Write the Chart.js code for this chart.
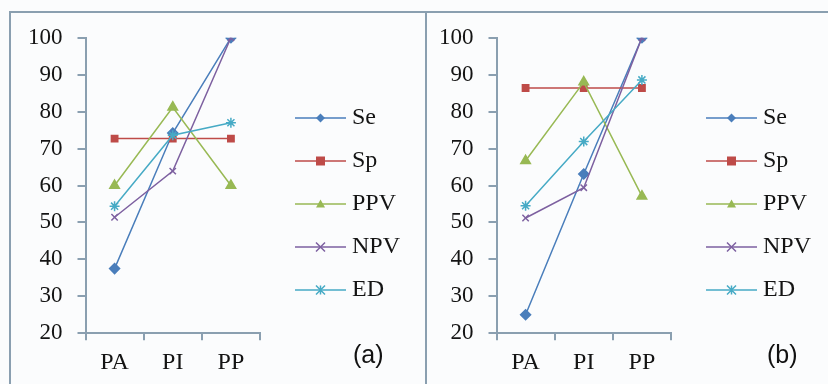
<!DOCTYPE html>
<html>
<head>
<meta charset="utf-8">
<script src="https://cdn.jsdelivr.net/npm/chart.js@4.4.0/dist/chart.umd.min.js"></script>
<style>
  html, body { margin: 0; padding: 0; width: 828px; height: 384px; overflow: hidden; background: #fbfcfd; }
  .frame { position: absolute; top: 11px; height: 380px; border-top: 2px solid #8a9fb0; }
  #frameA { left: 9px; width: 414px; border-left: 2px solid #8a9fb0; border-right: 2px solid #8a9fb0; }
  #frameB { left: 427px; width: 401px; }
  canvas { position: absolute; top: 9px; }
  #chartA { left: 11px; }
  #chartB { left: 422px; }
  .tag { position: absolute; top: 342px; font: 25px/25px "Liberation Sans", Arial, sans-serif; color: #111; }
</style>
</head>
<body>
<div class="frame" id="frameA"></div>
<div class="frame" id="frameB"></div>
<canvas id="chartA" width="414" height="376"></canvas>
<canvas id="chartB" width="414" height="376"></canvas>
<div class="tag" style="left:353px">(a)</div>
<div class="tag" style="left:767px">(b)</div>
<script>
// Categories and series names
const categories = ['PA', 'PI', 'PP'];
const seriesNames = ['Se', 'Sp', 'PPV', 'NPV', 'ED'];

// Panel (a) values
const seA = [37.5, 74.2, 100];
const spA = [72.7, 72.7, 72.7];
const ppvA = [60, 81.2, 60];
const npvA = [51.4, 63.9, 100];
const edA = [54.4, 73.6, 77];

// Panel (b) values
const seB = [25, 63.1, 100];
const spB = [86.4, 86.4, 86.4];
const ppvB = [66.7, 88, 57.1];
const npvB = [51.2, 59.4, 100];
const edB = [54.5, 71.9, 88.6];

// Y axis range
const yMin = 20;
const yMax = 100;
const yStep = 10;

const LINE_COLORS = ['#4a7ebb', '#be4b48', '#98b954', '#7d60a0', '#46aac5'];
const POINT_STYLES = ['rectRot', 'rect', 'triangle', 'crossRot', 'star'];
const POINT_RADII = [5, 4.5, 5.5, 4.5, 5];
const AXIS = '#8a9fb0';
const TEXT = '#141414';
const SERIF = '"Liberation Serif", "Times New Roman", serif';

/**
 * Draw a small marker shape on a 2d context (used for the legend images)
 */
function drawMarker(ctx, style, x, y, r) {
  ctx.beginPath();
  switch (style) {
    case 'rectRot':
      ctx.moveTo(x, y - r); ctx.lineTo(x + r, y); ctx.lineTo(x, y + r); ctx.lineTo(x - r, y);
      ctx.closePath(); ctx.fill();
      break;
    case 'rect':
      ctx.rect(x - r, y - r, 2 * r, 2 * r); ctx.fill();
      break;
    case 'triangle':
      ctx.moveTo(x, y - r); ctx.lineTo(x + r, y + r * 0.8); ctx.lineTo(x - r, y + r * 0.8);
      ctx.closePath(); ctx.fill();
      break;
    case 'crossRot':
      ctx.moveTo(x - r, y - r); ctx.lineTo(x + r, y + r);
      ctx.moveTo(x + r, y - r); ctx.lineTo(x - r, y + r);
      ctx.stroke();
      break;
    default:
      ctx.moveTo(x - r, y - r); ctx.lineTo(x + r, y + r);
      ctx.moveTo(x + r, y - r); ctx.lineTo(x - r, y + r);
      ctx.moveTo(x, y - r); ctx.lineTo(x, y + r);
      ctx.stroke();
  }
}

/**
 * Legend symbol: a short line with the series marker in the middle
 */
function makeLegendImage(color, style) {
  const c = document.createElement('canvas');
  c.width = 73;
  c.height = 14;
  const ctx = c.getContext('2d');
  ctx.strokeStyle = color;
  ctx.fillStyle = color;
  ctx.lineWidth = 1.5;
  ctx.beginPath();
  ctx.moveTo(22, 7);
  ctx.lineTo(73, 7);
  ctx.stroke();
  drawMarker(ctx, style, 47.5, 7, 4.5);
  return c;
}

const legendImages = LINE_COLORS.map((c, i) => makeLegendImage(c, POINT_STYLES[i]));

function buildChart(canvasId, values) {
  const datasets = seriesNames.map((name, i) => ({
    label: name,
    data: values[i],
    borderColor: LINE_COLORS[i],
    backgroundColor: LINE_COLORS[i],
    pointBorderColor: LINE_COLORS[i],
    borderWidth: 1.5,
    pointStyle: POINT_STYLES[i],
    pointRadius: POINT_RADII[i],
    pointBorderWidth: 1.5,
    tension: 0,
    order: seriesNames.length - i
  }));

  return new Chart(document.getElementById(canvasId), {
    type: 'line',
    data: { labels: categories, datasets },
    options: {
      responsive: false,
      animation: false,
      events: [],
      devicePixelRatio: 1,
      layout: { padding: { top: 0, left: 2, right: 15, bottom: 0 } },
      plugins: {
        tooltip: { enabled: false },
        legend: {
          position: 'right',
          align: 'start',
          maxWidth: 170,
          // empty title only pushes the legend items down
          title: { display: true, text: '', padding: 0, font: { size: 10, lineHeight: '78px' } },
          labels: {
            usePointStyle: true,
            pointStyleWidth: 61,
            padding: 19,
            color: TEXT,
            font: { family: SERIF, size: 24 },
            generateLabels: (chart) => chart.data.datasets.map((ds, i) => ({
              text: ds.label,
              pointStyle: legendImages[i],
              fillStyle: ds.borderColor,
              strokeStyle: ds.borderColor,
              lineWidth: 0,
              hidden: false,
              datasetIndex: i,
              fontColor: TEXT
            }))
          }
        }
      },
      scales: {
        x: {
          offset: true,
          grid: { drawOnChartArea: false, offset: true, tickLength: 7, color: AXIS, lineWidth: 2 },
          border: { color: AXIS, width: 2 },
          ticks: { color: TEXT, padding: 8, font: { family: SERIF, size: 24 } }
        },
        y: {
          min: yMin,
          max: yMax,
          grid: { drawOnChartArea: false, tickLength: 8, color: AXIS, lineWidth: 2 },
          border: { color: AXIS, width: 2 },
          ticks: { stepSize: yStep, color: TEXT, padding: 15, font: { family: SERIF, size: 23 } }
        }
      }
    }
  });
}

buildChart('chartA', [seA, spA, ppvA, npvA, edA]);
buildChart('chartB', [seB, spB, ppvB, npvB, edB]);
</script>
</body>
</html>
